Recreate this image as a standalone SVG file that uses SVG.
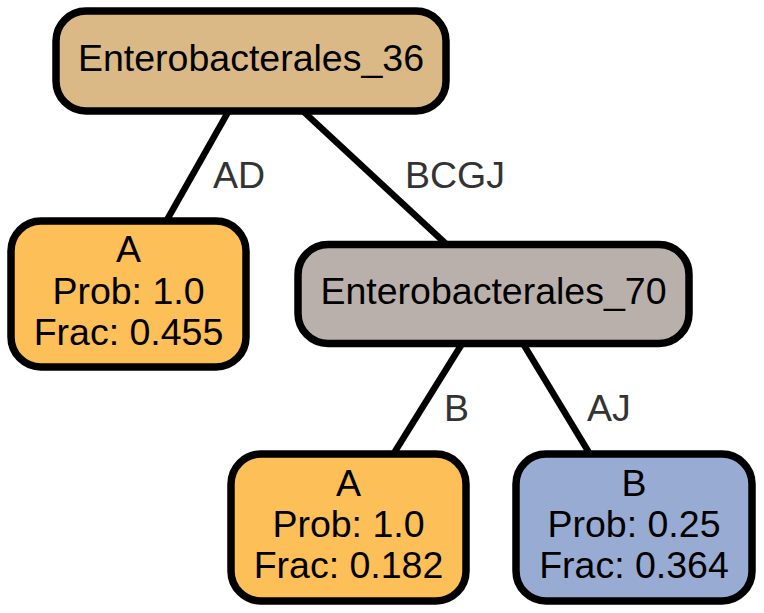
<svg xmlns="http://www.w3.org/2000/svg" width="764" height="613" viewBox="0 0 764 613">
<style>
.node rect{stroke:#000;stroke-width:7.5}
.node text{font-family:"Liberation Sans",Arial,Helvetica,sans-serif;font-size:37.5px;fill:#000;text-anchor:middle}
.edges line{stroke:#000;stroke-width:6.5}
.edges text{font-family:"Liberation Sans",Arial,Helvetica,sans-serif;font-size:37.5px;fill:#333}
</style>
<rect width="764" height="613" fill="#fff"/>
<g class="edges" id="edges">
<line x1="257" y1="61" x2="125" y2="294"/>
<line x1="249" y1="61" x2="500" y2="294"/>
<line x1="493" y1="294" x2="348" y2="527"/>
<line x1="493" y1="294" x2="634" y2="527"/>
<text x="213" y="188">AD</text>
<text x="405" y="188">BCGJ</text>
<text x="444" y="421">B</text>
<text x="587" y="421">AJ</text>
</g>
<g class="node" id="Enterobacterales_36">
<rect x="56" y="11" width="390" height="100" rx="30" fill="#DAB987"/>
<text x="251" y="71">Enterobacterales_36</text>
</g>
<g class="node" id="A_1">
<rect x="11" y="221" width="235" height="146" rx="30" fill="#FDBF57"/>
<text x="128.5" y="262">A</text>
<text x="128.5" y="304">Prob: 1.0</text>
<text x="128.5" y="345">Frac: 0.455</text>
</g>
<g class="node" id="Enterobacterales_70">
<rect x="298" y="244.5" width="391" height="99" rx="30" fill="#BAB0AB"/>
<text x="493.5" y="303.5">Enterobacterales_70</text>
</g>
<g class="node" id="A_2">
<rect x="231" y="454" width="235" height="147" rx="30" fill="#FDBF57"/>
<text x="348.5" y="496">A</text>
<text x="348.5" y="537">Prob: 1.0</text>
<text x="348.5" y="578">Frac: 0.182</text>
</g>
<g class="node" id="B_1">
<rect x="516" y="454" width="236" height="147" rx="30" fill="#98ABD3"/>
<text x="634" y="496">B</text>
<text x="634" y="537">Prob: 0.25</text>
<text x="634" y="578">Frac: 0.364</text>
</g>
</svg>
